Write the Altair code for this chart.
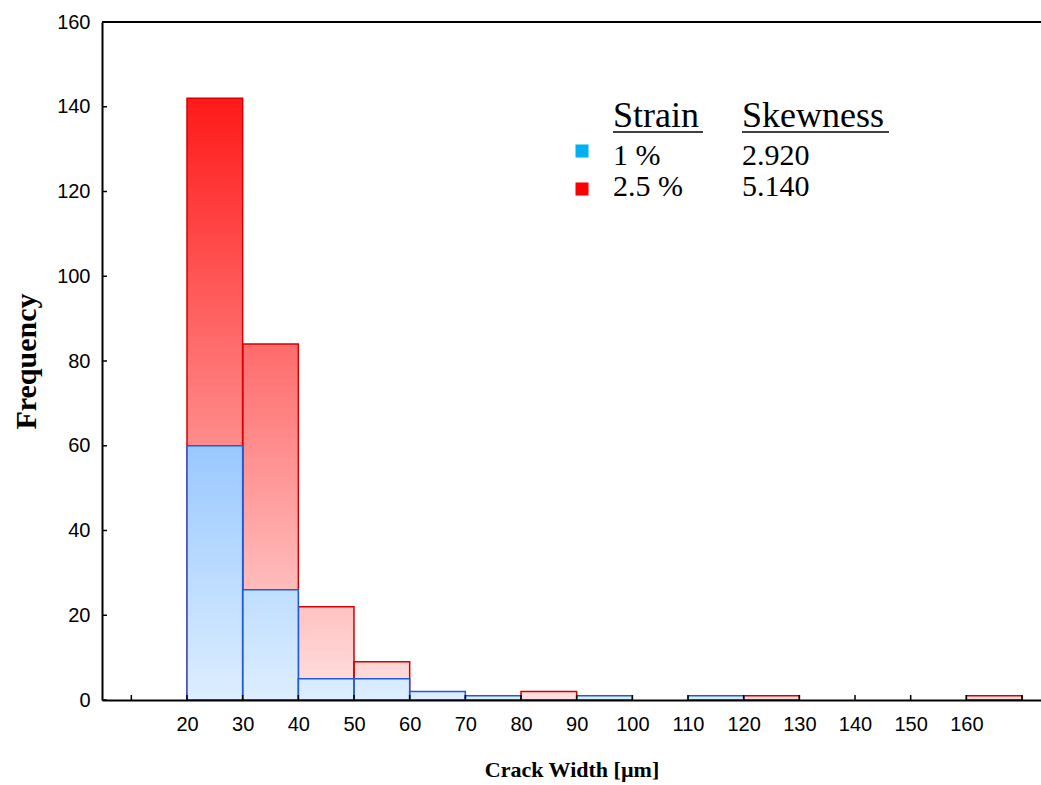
import altair as alt
import pandas as pd

# Histogram of crack widths, 10 µm bins (left edges)
bin_start = [20, 30, 40, 50, 60, 70, 80, 90, 100, 110, 120, 130, 140, 150, 160]
freq_1pct = [60, 26, 5, 5, 2, 1, 0, 1, 0, 1, 0, 0, 0, 0, 0]
freq_25pct = [142, 84, 22, 9, 0, 0, 2, 0, 0, 0, 1, 0, 0, 0, 1]
bin_width = 10

x_label_values = [20, 30, 40, 50, 60, 70, 80, 90, 100, 110, 120, 130, 140, 150, 160]
x_tick_values = [10, 20, 30, 40, 50, 60, 70, 80, 90, 100, 110, 120, 130, 140, 150, 160, 170]
y_tick_values = [0, 20, 40, 60, 80, 100, 120, 140, 160]

W, H = 939, 678
x_scale = alt.Scale(domain=[4.73, 173.41], nice=False, zero=False)
y_scale = alt.Scale(domain=[0, 160], nice=False)

x_axis = alt.Axis(
    title="Crack Width [µm]", values=x_label_values, tickSize=0, grid=False,
    domainColor="black", domainWidth=2, labelFont="Liberation Sans", labelFontSize=20,
    labelColor="black", labelPadding=14, titleFont="Liberation Serif", titleFontSize=22,
    titleFontWeight="bold", titleColor="black", titlePadding=25, zindex=1,
)
y_axis = alt.Axis(
    title="Frequency", values=y_tick_values, tickSize=0, grid=False,
    domainColor="black", domainWidth=2, labelFont="Liberation Sans", labelFontSize=20,
    labelColor="black", labelPadding=12, titleFont="Liberation Serif", titleFontSize=30,
    titleFontWeight="bold", titleColor="black", titlePadding=15, zindex=1,
)


def bars(freqs):
    rows = []
    for s, v in zip(bin_start, freqs):
        if v > 0:
            rows.append({"x0": s, "x1": s + bin_width, "v": v})
    return pd.DataFrame(rows)


def shade_bands(freqs):
    # Each bar is built from nested rects 0..h, tallest first, so every
    # unit band carries the colour of its own height level.
    rows = []
    for s, v in zip(bin_start, freqs):
        for h in range(v, 0, -1):
            rows.append({"x0": s, "x1": s + bin_width, "h": h, "level": h - 0.5})
    return pd.DataFrame(rows)


def shaded_layer(freqs, light, dark):
    return alt.Chart(shade_bands(freqs)).mark_rect(strokeWidth=0).encode(
        x=alt.X("x0:Q", scale=x_scale, axis=x_axis),
        x2="x1:Q",
        y=alt.Y("h:Q", scale=y_scale, axis=y_axis),
        y2=alt.datum(0),
        color=alt.Color(
            "level:Q",
            scale=alt.Scale(domain=[0, 160], range=[light, dark], interpolate="rgb"),
            legend=None,
        ),
    )


def outline_layer(freqs, stroke):
    return alt.Chart(bars(freqs)).mark_rect(fillOpacity=0, stroke=stroke, strokeWidth=1.5).encode(
        x=alt.X("x0:Q", scale=x_scale, axis=x_axis),
        x2="x1:Q",
        y=alt.Y("v:Q", scale=y_scale, axis=y_axis),
        y2=alt.datum(0),
    )


red_fill = shaded_layer(freq_25pct, "#ffe1e1", "#ff0000")
red_line = outline_layer(freq_25pct, "#d60000")
blue_fill = shaded_layer(freq_1pct, "#ddeeff", "#2889ff")
blue_line = outline_layer(freq_1pct, "#1f5bd9")

one_row = pd.DataFrame({"k": [0]})

# Inward tick marks
x_ticks = alt.Chart(pd.DataFrame({"t": x_tick_values})).mark_rule(color="black", strokeWidth=1.5).encode(
    x=alt.X("t:Q", scale=x_scale, axis=x_axis), y=alt.value(H), y2=alt.value(H - 5)
)
y_ticks = alt.Chart(pd.DataFrame({"t": y_tick_values})).mark_rule(color="black", strokeWidth=1.5).encode(
    y=alt.Y("t:Q", scale=y_scale, axis=y_axis), x=alt.value(0), x2=alt.value(5)
)
top_frame = alt.Chart(one_row).mark_rule(color="black", strokeWidth=2).encode(
    x=alt.value(0), x2=alt.value(W), y=alt.value(0)
)

# Key with skewness table
serif = "Liberation Serif"


def label(text, x, y, size):
    return alt.Chart(one_row).mark_text(
        text=text, font=serif, fontSize=size, align="left", baseline="alphabetic", color="black"
    ).encode(x=alt.value(x), y=alt.value(y))


def underline(x0, x1, y):
    return alt.Chart(one_row).mark_rule(color="black", strokeWidth=1.5).encode(
        x=alt.value(x0), x2=alt.value(x1), y=alt.value(y)
    )


def swatch(color, y):
    return alt.Chart(one_row).mark_square(size=170, color=color, opacity=1).encode(
        x=alt.value(480), y=alt.value(y)
    )


key = alt.layer(
    label("Strain", 511, 105, 36),
    label("Skewness", 640, 105, 36),
    underline(511, 601, 110),
    underline(640, 787, 110),
    swatch("#00b0f0", 129),
    label("1 %", 511, 143, 30),
    label("2.920", 640, 143, 30),
    swatch("#ff0000", 167),
    label("2.5 %", 511, 174, 30),
    label("5.140", 640, 174, 30),
)

chart = alt.layer(
    red_fill, red_line, blue_fill, blue_line, x_ticks, y_ticks, top_frame, key
).resolve_scale(color="independent").properties(
    width=W, height=H,
    padding={"left": 102, "top": 22, "right": 0, "bottom": 85},
    autosize=alt.AutoSizeParams(type="none"),
    background="white",
).configure_view(stroke=None)

chart.save("out.html", embed_options={"renderer": "svg", "actions": False})
